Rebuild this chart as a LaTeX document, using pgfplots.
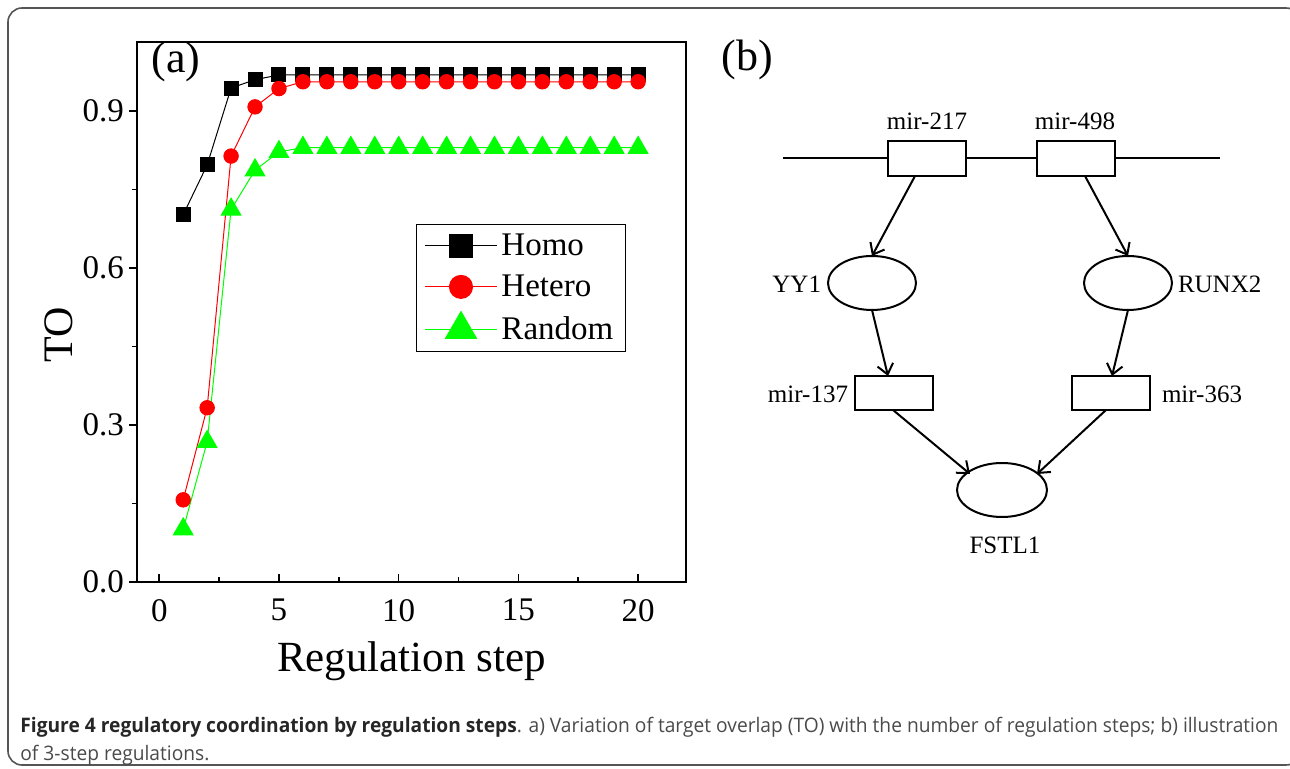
\documentclass[border=0pt]{standalone}
\usepackage{pgfplots}
\pgfplotsset{compat=1.18}
\usepackage{fontspec}
\setmainfont{Liberation Serif}
\newfontfamily\capfont{Open Sans}
\usetikzlibrary{arrows.meta}
\definecolor{capdark}{HTML}{262626}
\definecolor{capgray}{HTML}{4A4A4A}
\definecolor{frame}{HTML}{555555}
\definecolor{mygreen}{HTML}{00FF00}

\newsavebox\caponebox
\begin{document}%
\sbox\caponebox{\capfont\fontsize{10}{12}\selectfont
  \textcolor{capdark}{\bfseries Figure 4 regulatory coordination by regulation steps}\textcolor{capgray}{. a) Variation of target overlap (TO) with the number of regulation steps; b) illustration}}%
\pgfmathsetmacro\capscale{629pt/\the\wd\caponebox}%
\begin{tikzpicture}
% page = 1290 x 769 px, 1 px = 0.5pt
\begin{axis}[
    at={(68.5pt,-291pt)}, anchor=south west,
    scale only axis,
    width=274.5pt, height=270pt,
    xmin=-0.93, xmax=22, ymin=0, ymax=1.032,
    axis line style={line width=1pt},
    xtick={0,5,...,20}, ytick={0,0.3,0.6,0.9},
    minor x tick num=1, minor y tick num=1,
    xtick pos=bottom, ytick pos=left,
    xtick align=inside, ytick align=outside,
    major tick length=4pt, minor tick length=2.5pt,
    tick style={line width=0.8pt, black},
    yticklabel style={xshift=1pt, /pgf/number format/.cd, fixed, fixed zerofill, precision=1},
    /pgf/number format/assume math mode=true,
    tick label style={font=\fontsize{16.5}{20}\selectfont},
    xticklabel style={yshift=-5pt},
    xlabel={Regulation step}, ylabel={TO},
    every axis x label/.style={at={(axis description cs:0.5,-0.165)}, anchor=base,
        font=\fontsize{21.5}{24}\selectfont},
    every axis y label/.style={at={(axis description cs:-0.1166,0.457)}, anchor=base,
        rotate=90, font=\fontsize{21}{24}\selectfont},
    clip=false,
    legend style={at={(0.508,0.663)}, anchor=north west, draw=black, line width=0.6pt,
        font=\fontsize{16.5}{18}\selectfont, row sep=4.2pt, inner xsep=4pt, inner ysep=2.5pt},
    legend cell align=left,
    legend image code/.code={
        \draw[#1] (0pt,0pt) -- (36pt,0pt);
        \draw[#1, /tikz/every mark/.append style={scale=1.6}] plot coordinates {(18pt,0pt)};
    },
]
\addplot[black, line width=0.5pt, mark=square*, mark size=3.5pt] coordinates {
    (1,0.702) (2,0.797) (3,0.944) (4,0.960) (5,0.969) (6,0.969) (7,0.969)
    (8,0.969) (9,0.969) (10,0.969) (11,0.969) (12,0.969) (13,0.969) (14,0.969)
    (15,0.969) (16,0.969) (17,0.969) (18,0.969) (19,0.969) (20,0.969)
};
\addlegendentry{Homo}
\addplot[red, line width=0.5pt, mark=*, mark size=3.6pt] coordinates {
    (1,0.157) (2,0.333) (3,0.814) (4,0.908) (5,0.943) (6,0.956) (7,0.956)
    (8,0.956) (9,0.956) (10,0.956) (11,0.956) (12,0.956) (13,0.956) (14,0.956)
    (15,0.956) (16,0.956) (17,0.956) (18,0.956) (19,0.956) (20,0.956)
};
\addlegendentry{Hetero}
\addplot[mygreen, line width=0.5pt, mark=triangle*, mark size=5.6pt] coordinates {
    (1,0.101) (2,0.268) (3,0.712) (4,0.787) (5,0.822) (6,0.830) (7,0.830)
    (8,0.830) (9,0.830) (10,0.830) (11,0.830) (12,0.830) (13,0.830) (14,0.830)
    (15,0.830) (16,0.830) (17,0.830) (18,0.830) (19,0.830) (20,0.830)
};
\addlegendentry{Random}
\end{axis}

\begin{scope}[x=0.5pt, y=-0.5pt]
  % outer frame
  \draw[frame, line width=0.8pt, rounded corners=7pt] (8,8) rectangle (1300,765);
  % panel labels
  \node[font=\fontsize{22}{24}\selectfont] at (176,62) {(a)};
  \node[font=\fontsize{22}{24}\selectfont] at (747,60) {(b)};
  % diagram
  \begin{scope}[line width=1pt, font=\fontsize{12.5}{14}\selectfont,
      >={Straight Barb[length=5pt, width=8pt]}]
    \draw (783,158) -- (888,158) (966,158) -- (1037,158) (1115,158) -- (1220,158);
    \draw (888,141) rectangle (966,176);
    \draw (1037,141) rectangle (1115,176);
    \node at (927,121) {mir-217};
    \node at (1075,121) {mir-498};
    \draw (872,283) ellipse [x radius=44, y radius=27];
    \draw (1128,283) ellipse [x radius=44, y radius=27];
    \node[anchor=east, inner sep=0pt] at (822,284) {YY1};
    \node[anchor=west, inner sep=0pt] at (1177,284) {RUNX2};
    \draw[->] (915,176) -- (872,256);
    \draw[->] (1085,176) -- (1128,256);
    \draw (855,376) rectangle (933,410);
    \draw (1072,376) rectangle (1150,410);
    \node[anchor=east, inner sep=0pt] at (849,394) {mir-137};
    \node[anchor=west, inner sep=0pt] at (1161,394) {mir-363};
    \draw[->] (872,310) -- (888,376);
    \draw[->] (1128,310) -- (1112,376);
    \draw (1002,490) ellipse [x radius=45, y radius=27];
    \node at (1005,545) {FSTL1};
    \draw[->] (893,410) -- (970,474);
    \draw[->] (1106,410) -- (1037,474);
  \end{scope}
  % caption
  \node[anchor=base west, inner sep=0pt] at (20,732) {\scalebox{\capscale}[1]{\usebox\caponebox}};
  \node[anchor=base west, inner sep=0pt] at (20,760) {\scalebox{\capscale}[1]{\capfont\fontsize{10}{12}\selectfont\textcolor{capgray}{of 3-step regulations.}}};
\end{scope}
\pgfresetboundingbox
\useasboundingbox (0,0) rectangle (645pt,-384.5pt);
\end{tikzpicture}%
\end{document}
